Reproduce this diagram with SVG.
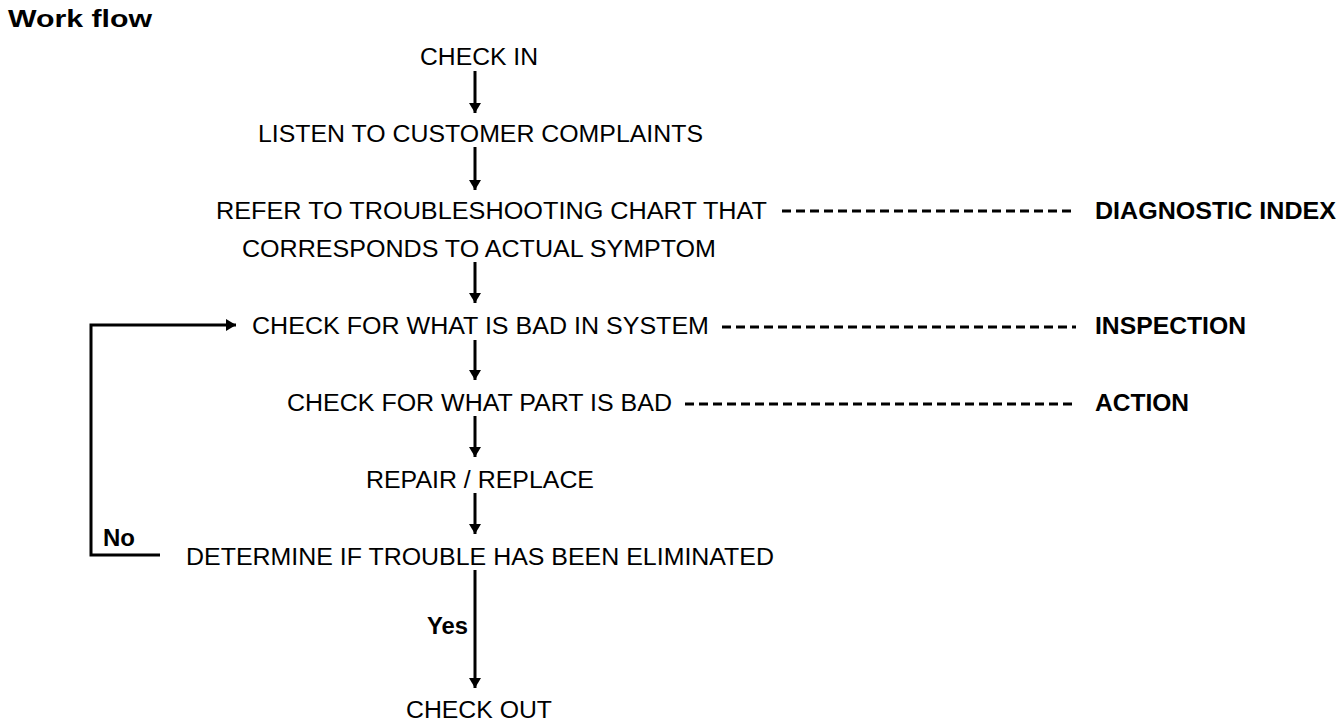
<svg xmlns="http://www.w3.org/2000/svg" width="1344" height="726" viewBox="0 0 1344 726">
<style>
.t{font-family:"Liberation Sans",Arial,sans-serif;font-size:23px;fill:#000}
.b{font-family:"Liberation Sans",Arial,sans-serif;font-size:23px;font-weight:bold;fill:#000}
.ln{stroke:#000;stroke-width:3;fill:none}
.ds{stroke:#000;stroke-width:3;fill:none;stroke-dasharray:9 5}
</style>
<defs>
<marker id="ah" markerWidth="10" markerHeight="14" refX="10" refY="7" orient="auto" markerUnits="userSpaceOnUse">
<path d="M0,1 L10,7 L0,13 Z" fill="#000"/>
</marker>
</defs>
<rect width="1344" height="726" fill="#fff"/>
<text x="8" y="27" class="b" font-size="24" textLength="144" lengthAdjust="spacingAndGlyphs">Work flow</text>
<g id="n1"><text x="420" y="65" class="t" textLength="118" lengthAdjust="spacingAndGlyphs">CHECK IN</text></g>
<g id="n2"><text x="258" y="142" class="t" textLength="445" lengthAdjust="spacingAndGlyphs">LISTEN TO CUSTOMER COMPLAINTS</text></g>
<g id="n3"><text x="216" y="219" class="t" textLength="551" lengthAdjust="spacingAndGlyphs">REFER TO TROUBLESHOOTING CHART  THAT</text>
<text x="242" y="257" class="t" textLength="474" lengthAdjust="spacingAndGlyphs">CORRESPONDS TO ACTUAL SYMPTOM</text></g>
<g id="n4"><text x="252" y="334" class="t" textLength="457" lengthAdjust="spacingAndGlyphs">CHECK FOR WHAT IS BAD IN SYSTEM</text></g>
<g id="n5"><text x="287" y="411" class="t" textLength="385" lengthAdjust="spacingAndGlyphs">CHECK FOR WHAT PART IS BAD</text></g>
<g id="n6"><text x="366" y="488" class="t" textLength="228" lengthAdjust="spacingAndGlyphs">REPAIR / REPLACE</text></g>
<g id="n7"><text x="186" y="565" class="t" textLength="588" lengthAdjust="spacingAndGlyphs">DETERMINE IF TROUBLE HAS BEEN ELIMINATED</text></g>
<g id="n8"><text x="406" y="718" class="t" textLength="146" lengthAdjust="spacingAndGlyphs">CHECK OUT</text></g>
<g id="r1"><text x="1095" y="219" class="b" textLength="241" lengthAdjust="spacingAndGlyphs">DIAGNOSTIC INDEX</text></g>
<g id="r2"><text x="1095" y="334" class="b" textLength="151" lengthAdjust="spacingAndGlyphs">INSPECTION</text></g>
<g id="r3"><text x="1095" y="411" class="b" textLength="94" lengthAdjust="spacingAndGlyphs">ACTION</text></g>
<g id="connectors">
<line class="ln" x1="475" y1="71" x2="475" y2="113" marker-end="url(#ah)"/>
<line class="ln" x1="475" y1="147" x2="475" y2="190" marker-end="url(#ah)"/>
<line class="ln" x1="475" y1="262" x2="475" y2="303" marker-end="url(#ah)"/>
<line class="ln" x1="475" y1="340" x2="475" y2="380" marker-end="url(#ah)" stroke-width="2"/>
<line class="ln" x1="475" y1="416" x2="475" y2="457" marker-end="url(#ah)"/>
<line class="ln" x1="475" y1="493" x2="475" y2="534" marker-end="url(#ah)" stroke-width="2"/>
<line class="ln" x1="475" y1="570" x2="475" y2="688" marker-end="url(#ah)"/>
<polyline class="ln" points="160,555 91,555 91,325 236,325" marker-end="url(#ah)"/>
<line class="ds" x1="782" y1="211" x2="1076" y2="211"/>
<line class="ds" x1="722" y1="327" x2="1076" y2="327"/>
<line class="ds" x1="685" y1="404" x2="1072" y2="404"/>
<text x="103" y="546" class="b" font-size="21" textLength="32" lengthAdjust="spacingAndGlyphs">No</text>
<text x="427" y="634" class="b" font-size="21" textLength="41" lengthAdjust="spacingAndGlyphs">Yes</text>
</g>
</svg>
